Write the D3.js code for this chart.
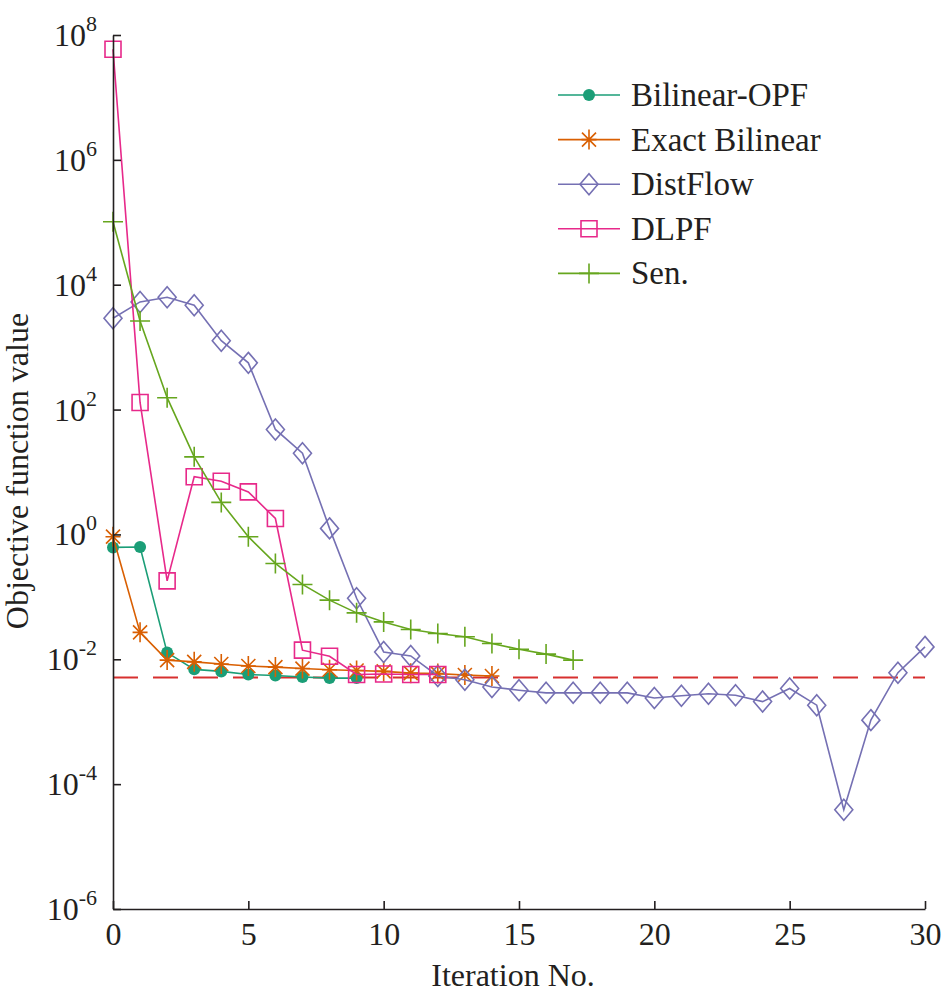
<!DOCTYPE html>
<html>
<head>
<meta charset="utf-8">
<script src="https://cdn.jsdelivr.net/npm/d3@7"></script>
<style>
  body { margin: 0; background: #fff; }
  svg text { font-family: "Liberation Serif", "Times New Roman", serif; fill: #231f20; }
</style>
</head>
<body>
<svg id="chart" width="942" height="995"></svg>
<script>
// ── DATA ───────────────────────────────────────────────────────────────────
const bilinearOPF   = [0.62, 0.63, 0.0128, 0.0069, 0.0064, 0.0057, 0.0055, 0.0052, 0.0050, 0.0050];
const exactBilinear = [0.92, 0.027, 0.0097, 0.0091, 0.0084, 0.0078, 0.0075, 0.0071, 0.0068, 0.0066,
                       0.0064, 0.0060, 0.0059, 0.0056, 0.0054];
const distFlow      = [2900, 5300, 6300, 4700, 1270, 560, 48, 20, 1.25, 0.095,
                       0.0131, 0.0113, 0.0054, 0.0047, 0.0036, 0.0032, 0.0029, 0.0029, 0.0029, 0.0029,
                       0.0024, 0.0026, 0.0028, 0.00266, 0.0021, 0.0034, 0.00184, 3.9e-5, 0.00106, 0.0061, 0.0158];
const dlpf          = [5.9e7, 130, 0.18, 8.4, 7.1, 4.8, 1.8, 0.014, 0.0112, 0.0057, 0.0058, 0.0057, 0.0057];
const sen           = [1.02e5, 2620, 155, 17.5, 3.26, 0.92, 0.343, 0.158, 0.0886, 0.0554,
                       0.0397, 0.030, 0.0259, 0.0229, 0.0179, 0.0145, 0.0121, 0.0097];
const threshold     = 0.0051;

const xTicks = [0, 5, 10, 15, 20, 25, 30];
const yExponents = [8, 6, 4, 2, 0, -2, -4, -6];
const labels = ['Bilinear-OPF', 'Exact Bilinear', 'DistFlow', 'DLPF', 'Sen.'];

// ── SETUP ──────────────────────────────────────────────────────────────────
const W = 942, H = 995;
const margin = { top: 35, right: 17, bottom: 86, left: 113 };
const iW = W - margin.left - margin.right;
const iH = H - margin.top - margin.bottom;

const svg = d3.select('#chart');
const x = d3.scaleLinear().domain([0, 30]).range([0, iW]);
const y = d3.scaleLog().domain([1e-6, 1e8]).range([iH, 0]);

const g = svg.append('g').attr('transform', `translate(${margin.left},${margin.top})`);

// marker shapes (size in px)
function markerPath(type) {
  switch (type) {
    case 'star': {
      const a = 7.5, v = 10, d = 7;
      return `M${-a},0L${a},0M0,${-v}L0,${v}M${-d},${-d}L${d},${d}M${-d},${d}L${d},${-d}`;
    }
    case 'diamond': return 'M0,-10.5L9,0L0,10.5L-9,0Z';
    case 'square':  return 'M-8,-8H8V8H-8Z';
    case 'plus':    return 'M-10,0H10M0,-10V10';
  }
  return '';
}

const series = [
  { name: labels[0], values: bilinearOPF,   color: '#1b9e77', marker: 'circle' },
  { name: labels[1], values: exactBilinear, color: '#d95f02', marker: 'star' },
  { name: labels[2], values: distFlow,      color: '#7570b3', marker: 'diamond' },
  { name: labels[3], values: dlpf,          color: '#e7298a', marker: 'square' },
  { name: labels[4], values: sen,           color: '#66a61e', marker: 'plus' },
];

function drawMarker(sel, s) {
  if (s.marker === 'circle') {
    sel.append('circle').attr('r', 6).attr('fill', s.color).attr('stroke', 'none');
  } else {
    sel.append('path').attr('d', markerPath(s.marker))
      .attr('fill', 'none').attr('stroke', s.color).attr('stroke-width', 1.6);
  }
}

// threshold line
g.append('line')
  .attr('x1', x(0)).attr('x2', x(30))
  .attr('y1', y(threshold)).attr('y2', y(threshold))
  .attr('stroke', '#d7302f').attr('stroke-width', 2)
  .attr('stroke-dasharray', '25 15');

// series
const line = d3.line().x((d, i) => x(i)).y(d => y(d));
series.forEach(s => {
  g.append('path').attr('d', line(s.values))
    .attr('fill', 'none').attr('stroke', s.color).attr('stroke-width', 1.6);
  g.append('g').selectAll('g')
    .data(s.values)
    .join('g')
    .attr('transform', (d, i) => `translate(${x(i)},${y(d)})`)
    .each(function () { drawMarker(d3.select(this), s); });
});

// axes
const xAxis = g.append('g')
  .attr('transform', `translate(0,${iH})`)
  .call(d3.axisBottom(x).tickValues(xTicks).tickSizeInner(-8).tickSizeOuter(0).tickPadding(13));
xAxis.selectAll('path, line').attr('stroke', '#231f20').attr('stroke-width', 1.6);
xAxis.selectAll('text').attr('font-size', 32).attr('fill', '#231f20')
  .style('font-family', '"Liberation Serif", "Times New Roman", serif');

const yAxis = g.append('g')
  .call(d3.axisLeft(y).tickValues(yExponents.map(e => Math.pow(10, e)))
    .tickSizeInner(-8).tickSizeOuter(0).tickFormat(''));
yAxis.selectAll('path, line').attr('stroke', '#231f20').attr('stroke-width', 1.6);

// y tick labels with superscript exponent
yExponents.forEach(e => {
  const t = g.append('text')
    .attr('x', -16).attr('y', y(Math.pow(10, e)) + 11)
    .attr('text-anchor', 'end').attr('font-size', 32);
  t.append('tspan').text('10');
  t.append('tspan').attr('dy', -15).attr('font-size', 22).text(String(e));
});

// axis labels
svg.append('text')
  .attr('x', margin.left + iW / 2 - 6).attr('y', 986)
  .attr('text-anchor', 'middle').attr('font-size', 32)
  .text('Iteration No.');

svg.append('text')
  .attr('transform', 'translate(28,471) rotate(-90)')
  .attr('text-anchor', 'middle').attr('font-size', 32)
  .text('Objective function value');

// legend
const legend = svg.append('g').attr('transform', 'translate(558,95)');
series.forEach((s, i) => {
  const row = legend.append('g').attr('transform', `translate(0,${i * 44.6})`);
  row.append('line').attr('x1', 0).attr('x2', 62)
    .attr('stroke', s.color).attr('stroke-width', 1.6);
  drawMarker(row.append('g').attr('transform', 'translate(31,0)'), s);
  row.append('text').attr('x', 73).attr('y', 11).attr('font-size', 33).text(s.name);
});
</script>
</body>
</html>
